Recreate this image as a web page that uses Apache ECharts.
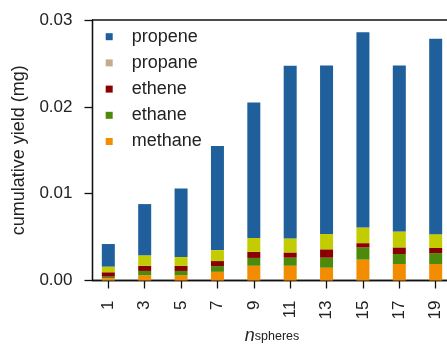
<!DOCTYPE html>
<html><head><meta charset="utf-8">
<script src="https://cdn.jsdelivr.net/npm/echarts@6/dist/echarts.min.js"></script>
<style>html,body{margin:0;padding:0;background:#fff}#c{width:447px;height:345px}</style>
</head><body><div id="c"></div>
<script>
const nSpheres = [1, 3, 5, 7, 9, 11, 13, 15, 17, 19];
const methane = [0.00025, 0.0006, 0.0006, 0.0010, 0.0017, 0.0017, 0.00147, 0.0024, 0.0019, 0.0019];
const ethane  = [0.0002, 0.0005, 0.0005, 0.00066, 0.0009, 0.00093, 0.00116, 0.0014, 0.00115, 0.00126];
const ethene  = [0.0005, 0.0006, 0.0006, 0.00058, 0.0007, 0.0006, 0.00096, 0.0005, 0.00076, 0.00058];
const propane = [0.00065, 0.0012, 0.0010, 0.00126, 0.0016, 0.0016, 0.00176, 0.0018, 0.00184, 0.0016];
const propene = [0.0026, 0.0059, 0.0079, 0.0120, 0.0156, 0.0199, 0.0194, 0.0225, 0.0191, 0.0225];
const yTicks = [0, 0.01, 0.02, 0.03];

const colors = {methane:'#f28c00', ethane:'#4e8a0a', ethene:'#8a0000', propane:'#c3cc00', propene:'#1f5f9b'};
const font = 'Liberation Sans';
function mk(name, arr) {
  // value first so that stacking happens on the y dimension
  return {name, type:'bar', stack:'t', barWidth:13, itemStyle:{color:colors[name]},
    encode:{x:1, y:0},
    data: nSpheres.map((x,i)=>[arr[i], x])};
}
const chart = echarts.init(document.getElementById('c'));
chart.setOption({
  animation:false,
  textStyle:{fontFamily:font},
  grid:{left:92.5, top:20, width:359, height:260.5, show:true, borderColor:'#111', borderWidth:1.3,
    containLabel:false, outerBoundsMode:'none'},
  legend:{orient:'vertical', left:100.7, top:21.7, itemWidth:7, itemHeight:7, itemGap:6.2,
    icon:'rect',
    textStyle:{fontSize:18, color:'#222', fontFamily:font, padding:[0,0,0,14], lineHeight:20},
    data:[{name:'propene'},{name:'propane', itemStyle:{color:'#c8a98c'}},{name:'ethene'},{name:'ethane'},{name:'methane'}]},
  xAxis:{type:'value', min:0.13, max:19.87,
    axisLine:{lineStyle:{color:'#111', width:1.3}},
    axisTick:{show:true, length:8, lineStyle:{color:'#111', width:1.3}, customValues:nSpheres},
    axisLabel:{rotate:90, margin:20, fontSize:17, color:'#222', fontFamily:font, customValues:nSpheres},
    splitLine:{show:false},
    name:'{n|n}{s|spheres}', nameLocation:'middle', nameGap:37,
    nameTextStyle:{rich:{n:{fontSize:18, fontStyle:'italic', color:'#222', fontFamily:font, lineHeight:34},
                         s:{fontSize:12.5, color:'#222', fontFamily:font, lineHeight:20}}}},
  yAxis:{type:'value', min:0, max:0.03, interval:0.01,
    axisLine:{show:true, lineStyle:{color:'#111', width:1.3}},
    axisTick:{show:true, length:8, lineStyle:{color:'#111', width:1.3}},
    axisLabel:{margin:20, fontSize:17, color:'#222', fontFamily:font, formatter:v=>v.toFixed(2)},
    splitLine:{show:false},
    name:'cumulative yield (mg)', nameLocation:'middle', nameGap:57,
    nameTextStyle:{fontSize:18, color:'#222', fontFamily:font}},
  series:[mk('methane',methane), mk('ethane',ethane), mk('ethene',ethene), mk('propane',propane), mk('propene',propene)]
});
</script></body></html>
